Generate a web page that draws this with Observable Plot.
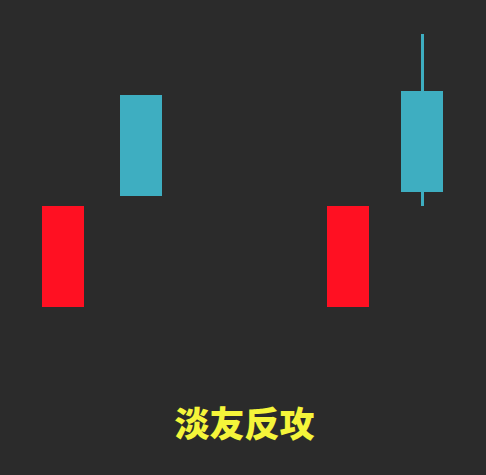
<!DOCTYPE html>
<html>
<head>
<meta charset="utf-8">
<script src="https://cdn.jsdelivr.net/npm/d3@7"></script>
<script src="https://cdn.jsdelivr.net/npm/@observablehq/plot@0.6"></script>
<style>
  html, body { margin: 0; padding: 0; background: #2b2b2b; }
  #chart svg { display: block; }
</style>
</head>
<body>
<div id="chart"></div>
<script>
// Candle data (arbitrary units)
const positions = [6.3, 14.1, 34.8, 42.2];
const opens  = [16.8, 38.0, 16.8, 38.4];
const closes = [26.9, 27.9, 26.9, 28.3];
const highs  = [26.9, 38.0, 26.9, 44.1];
const lows   = [16.8, 27.9, 16.8, 26.9];
const kinds  = ["red", "teal", "red", "teal"];
const title  = "淡友反攻";

const candles = positions.map((x, i) => ({
  x, open: opens[i], close: closes[i], high: highs[i], low: lows[i], kind: kinds[i]
}));

const colors = { red: "#ff1022", teal: "#3eaec1" };
const half = 2.1;

const chart = Plot.plot({
  width: 486,
  height: 475,
  margin: 0,
  style: { background: "#2b2b2b" },
  x: { domain: [0, 48.6], axis: null },
  y: { domain: [0, 47.5], axis: null },
  marks: [
    Plot.ruleX(candles, {
      x: "x", y1: "low", y2: "high",
      stroke: d => colors[d.kind], strokeWidth: 3
    }),
    Plot.rect(candles, {
      x1: d => d.x - half, x2: d => d.x + half,
      y1: "open", y2: "close",
      fill: d => colors[d.kind]
    }),
    Plot.text([title], {
      text: d => d,
      frameAnchor: "bottom",
      dx: 1,
      dy: -50,
      lineAnchor: "middle",
      fill: "#f5f53a",
      fontSize: 35,
      fontWeight: 900,
      fontFamily: "'Noto Sans CJK SC', sans-serif"
    })
  ]
});
document.getElementById("chart").append(chart);
</script>
</body>
</html>
